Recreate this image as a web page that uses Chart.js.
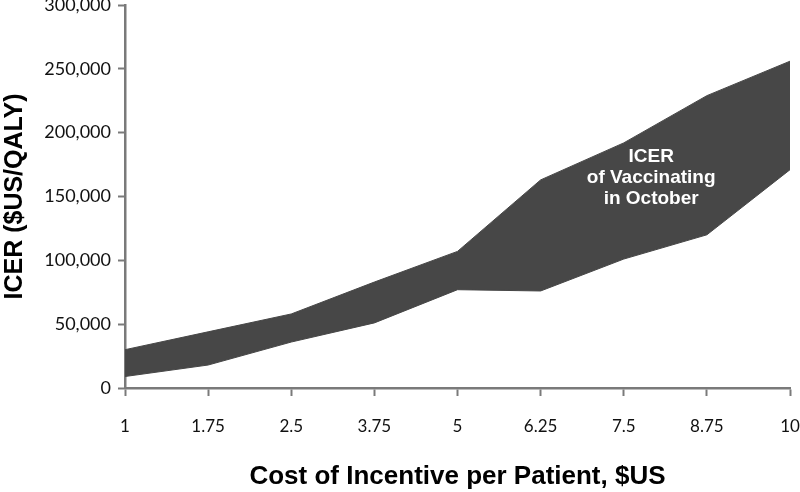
<!DOCTYPE html>
<html>
<head>
<meta charset="utf-8">
<script src="https://cdn.jsdelivr.net/npm/chart.js@4/dist/chart.umd.min.js"></script>
<style>
  html, body { margin: 0; padding: 0; background: #fff; }
  #icerChart { display: block; }
</style>
</head>
<body>
<canvas id="icerChart" width="800" height="492"></canvas>
<script>
"use strict";
// incentive cost per patient ($US)
const costLabels = ['1', '1.75', '2.5', '3.75', '5', '6.25', '7.5', '8.75', '10'];
// ICER range bounds ($US/QALY)
const icerLow = [9000, 18000, 36000, 51000, 77000, 76000, 101000, 120000, 171000];
const icerHigh = [30000, 44000, 58000, 83000, 107000, 163000, 192000, 229000, 256000];
const yMin = 0;
const yMax = 300000;
const yStep = 50000;
const bandLabel = ['ICER', 'of Vaccinating', 'in October'];

const axisGrey = '#7a7a7a';
const bandGrey = '#474747';

// white label inside the band
const bandLabelPlugin = {
    id: 'bandLabel',
    afterDatasetsDraw(chart) {
        let ctx = chart.ctx;
        let x = chart.scales.x.getPixelForValue(6.33);
        let y = chart.scales.y.getPixelForValue(165000);
        ctx.save();
        ctx.fillStyle = '#ffffff';
        ctx.font = 'bold 19px "Liberation Sans", Arial, sans-serif';
        ctx.textAlign = 'center';
        ctx.textBaseline = 'middle';
        bandLabel.forEach((line, i) => {
            ctx.fillText(line, x, y + (i - 1) * 21);
        });
        ctx.restore();
    }
};

let canvas = document.getElementById('icerChart');
let ctx = canvas.getContext('2d');
new Chart(ctx, {
    type: 'line',
    data: {
        labels: costLabels,
        datasets: [{
                label: 'Low',
                data: icerLow,
                borderColor: bandGrey,
                borderWidth: 1,
                pointRadius: 0,
                fill: false,
                tension: 0
            }, {
                label: 'High',
                data: icerHigh,
                borderColor: bandGrey,
                backgroundColor: bandGrey,
                borderWidth: 1,
                pointRadius: 0,
                fill: '-1',
                tension: 0
            }]
    },
    options: {
        responsive: false,
        animation: false,
        layout: {
            padding: 0
        },
        plugins: {
            legend: { display: false },
            tooltip: { enabled: false }
        },
        scales: {
            x: {
                type: 'category',
                offset: false,
                border: { display: true, color: axisGrey, width: 2.5 },
                grid: {
                    drawOnChartArea: false,
                    drawTicks: true,
                    tickLength: 8,
                    tickWidth: 2,
                    color: axisGrey
                },
                ticks: {
                    color: '#111',
                    padding: 20,
                    maxRotation: 0,
                    autoSkip: false,
                    font: { family: 'Lato', size: 17 }
                },
                title: {
                    display: true,
                    text: 'Cost of Incentive per Patient, $US',
                    color: '#000',
                    padding: { top: 0, bottom: 0 },
                    font: { family: '"Liberation Sans", Arial, sans-serif', size: 26, weight: 'bold' }
                },
                afterFit(scale) {
                    scale.height = 104;
                    scale.paddingLeft = 0;
                    scale.paddingRight = 10;
                }
            },
            y: {
                min: yMin,
                max: yMax,
                border: { display: true, color: axisGrey, width: 2.5 },
                grid: {
                    drawOnChartArea: false,
                    drawTicks: true,
                    tickLength: 7,
                    tickWidth: 2,
                    color: axisGrey
                },
                ticks: {
                    stepSize: yStep,
                    color: '#111',
                    padding: 7,
                    font: { family: 'Lato', size: 18 },
                    callback: (v) => v.toLocaleString('en-US')
                },
                title: {
                    display: true,
                    text: 'ICER ($US/QALY)',
                    color: '#000',
                    padding: { top: 0, bottom: 0 },
                    font: { family: '"Liberation Sans", Arial, sans-serif', size: 25, weight: 'bold' }
                },
                afterFit(scale) {
                    scale.width = 125;
                    scale.paddingTop = 5;
                    scale.paddingBottom = 0;
                }
            }
        }
    },
    plugins: [bandLabelPlugin]
});
</script>
</body>
</html>
